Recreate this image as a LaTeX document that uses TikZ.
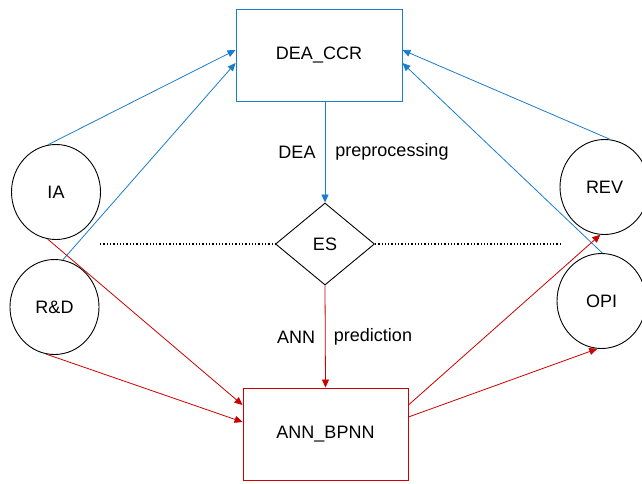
\documentclass[tikz,border=0pt]{standalone}
\usepackage{fontspec}
\setmainfont{Liberation Sans}
\usetikzlibrary{shapes.geometric,arrows.meta}
\definecolor{bl}{RGB}{26,124,204}
\definecolor{rd}{RGB}{204,0,0}
\begin{document}
\begin{tikzpicture}[x=1pt,y=-1pt,
  txt/.style={font=\fontsize{18}{20}\selectfont},
  circ/.style={draw,ellipse,line width=0.9pt,minimum width=89pt,minimum height=95pt,inner sep=0pt,txt},
  bluebox/.style={draw=bl,line width=0.9pt,minimum width=166pt,minimum height=92pt,txt},
  redbox/.style={draw=rd,line width=0.9pt,minimum width=165pt,minimum height=92pt,txt},
  bluearrow/.style={draw=bl,line width=0.8pt,-{Triangle[length=8pt,width=7pt]}},
  redarrow/.style={draw=rd,line width=0.8pt,-{Triangle[length=8pt,width=7pt]}},
  dots/.style={draw,line width=1.4pt,dash pattern=on 1.3pt off 2pt}]
\useasboundingbox (0,0) rectangle (642,483);
\node[bluebox] (dea) at (319,55) {DEA\_CCR};
\node[redbox] (ann) at (325.5,434) {ANN\_BPNN};
\node[draw,diamond,line width=0.9pt,minimum width=99pt,minimum height=82pt,inner sep=0pt,aspect=1.2,txt] (es) at (325,244) {ES};
\node[circ] (ia) at (56,192) {IA};
\node[circ] (rnd) at (54.5,307) {R\&D};
\node[circ] (rev) at (604.5,187) {REV};
\node[circ] (opi) at (601.5,301) {OPI};
\coordinate (dl) at (100,244);
\coordinate (dr) at (560,244);
% blue connectors
\draw[bluearrow] (ia.100) -- ([yshift=5pt]dea.west);
\draw[bluearrow] (rnd.80) -- ([yshift=-8pt]dea.west);
\draw[bluearrow] (rev.83) -- ([yshift=5pt]dea.east);
\draw[bluearrow] (opi.89) -- ([yshift=-8pt]dea.east);
\draw[bluearrow] (dea.south -| es.north) -- (es.north);
% red connectors
\draw[redarrow] (es.south) -- (ann.north);
\draw[redarrow] (ia.260) -- ([yshift=29pt]ann.west);
\draw[redarrow] (rnd.260) -- ([yshift=12pt]ann.west);
\draw[redarrow] ([yshift=29pt]ann.east) -- (rev.265);
\draw[redarrow] ([yshift=17pt]ann.east) -- (opi.265);
% dotted
\draw[dots] (dl) -- (es.west);
\draw[dots] (es.east) -- (dr);
% labels
\node[txt] (l1) at (297,152) {DEA};
\node[txt] (l2) at (392,152) {preprocessing};
\node[txt] (l3) at (296,337) {ANN};
\node[txt] (l4) at (373,337) {prediction};
\end{tikzpicture}
\end{document}
